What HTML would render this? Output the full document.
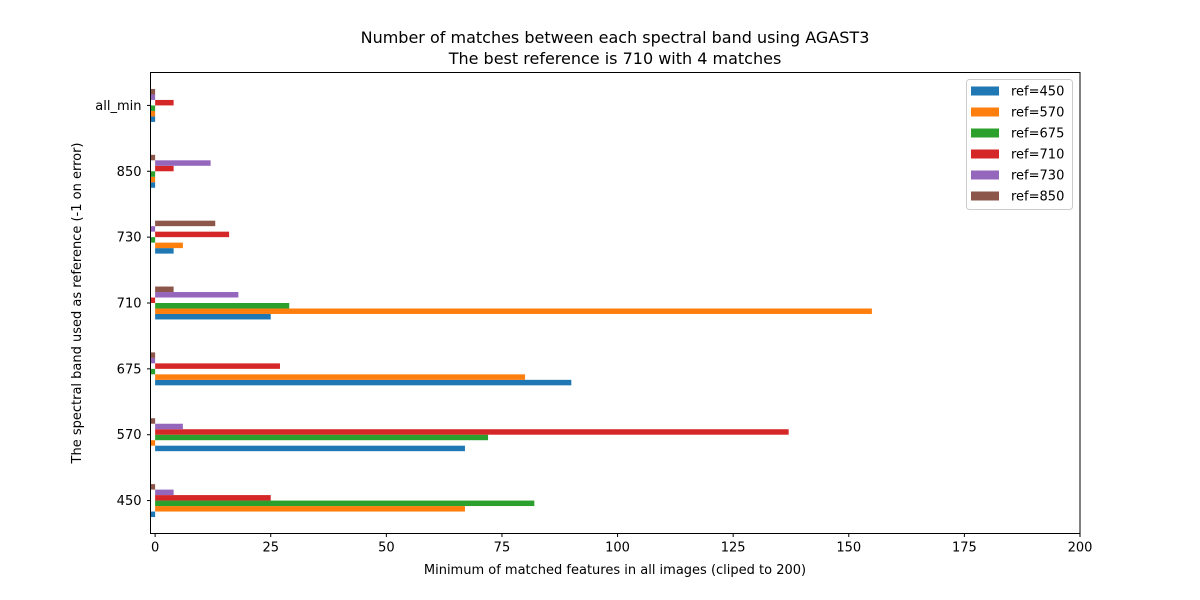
<!DOCTYPE html>
<html><head><meta charset="utf-8"><style>body{margin:0;background:#fff}svg{display:block;font-family:"DejaVu Sans","Liberation Sans",sans-serif}</style></head>
<body>
<svg id="chart" width="1200" height="600" xmlns="http://www.w3.org/2000/svg">
<rect width="1200" height="600" fill="#fff"/>
<text x="615" y="43" font-size="16" text-anchor="middle">Number of matches between each spectral band using AGAST3</text>
<text x="615" y="64" font-size="16" text-anchor="middle">The best reference is 710 with 4 matches</text>
<g id="bars"></g>
<rect x="150.5" y="72.5" width="929.5" height="461" fill="none" stroke="#000" stroke-width="1"/>
<g id="axes"></g>
<text x="615" y="574" font-size="13" text-anchor="middle">Minimum of matched features in all images (cliped to 200)</text>
<text transform="translate(81,303) rotate(-90)" font-size="13" text-anchor="middle">The spectral band used as reference (-1 on error)</text>
<g id="legend"></g>
</svg>
<script>
const categories = ["450","570","675","710","730","850","all_min"];
const seriesNames = ["ref=450","ref=570","ref=675","ref=710","ref=730","ref=850"];
const ref450 = [-1, 67, 90, 25, 4, -1, -1];
const ref570 = [67, -1, 80, 155, 6, -1, -1];
const ref675 = [82, 72, -1, 29, -1, -1, -1];
const ref710 = [25, 137, 27, -1, 16, 4, 4];
const ref730 = [4, 6, -1, 18, -1, 12, -1];
const ref850 = [-1, -1, -1, 4, 13, -1, -1];
const xTicks = [0, 25, 50, 75, 100, 125, 150, 175, 200];

const series = [ref450, ref570, ref675, ref710, ref730, ref850];
const colors = ["#1f77b4","#ff7f0e","#2ca02c","#d62728","#9467bd","#8c564b"];
const NS = "http://www.w3.org/2000/svg";
const L = 150.5, R = 1080, T = 72.5, B = 533.5;
const xMin = -1, xMax = 200;
function xs(v){ return L + (v - xMin) / (xMax - xMin) * (R - L); }
const n = categories.length;
const yMinD = -0.5, yMaxD = n - 0.5;
function yc(i){ return B - (i - yMinD) / (yMaxD - yMinD) * (B - T); }
const step = (B - T) / (yMaxD - yMinD);
const bw = 0.5 / series.length * step;

function mk(tag, attrs, parent){ const e = document.createElementNS(NS, tag); for (const k in attrs) e.setAttribute(k, attrs[k]); parent.appendChild(e); return e; }
const gb = document.getElementById("bars");
series.forEach((s, j) => {
  s.forEach((v, i) => {
    const yTop = yc(i) + 0.25 * step - (j + 1) * bw;
    const x0 = xs(Math.min(0, v)), x1 = xs(Math.max(0, v));
    const r = mk("rect", {x: x0, y: yTop, width: x1 - x0, height: bw, fill: colors[j]}, gb);
    
    
  });
});
const ga = document.getElementById("axes");
xTicks.forEach(t => {
  const x = xs(t);
  mk("line", {x1: x, x2: x, y1: B, y2: B + 3.5, stroke: "#000"}, ga);
  const tx = mk("text", {x: x, y: B + 18, "font-size": 13, "text-anchor": "middle"}, ga);
  tx.textContent = t;
  
  
});
categories.forEach((c, i) => {
  const y = yc(i);
  mk("line", {x1: L - 3.5, x2: L, y1: y, y2: y, stroke: "#000"}, ga);
  const tx = mk("text", {x: L - 9, y: y + 4.5, "font-size": 13, "text-anchor": "end"}, ga);
  tx.textContent = c;
  
  
});
const gl = document.getElementById("legend");
mk("rect", {x: 966.5, y: 79.5, width: 106, height: 130, rx: 3, fill: "#fff", stroke: "#ccc"}, gl);
seriesNames.forEach((nm, j) => {
  const y = 90.5 + j * 21;
  const p = mk("rect", {x: 971, y: y - 4, width: 28, height: 9, fill: colors[j]}, gl);
  
  
  const tx = mk("text", {x: 1011, y: y + 5, "font-size": 13}, gl);
  tx.textContent = nm;
  
  
});
</script>
</body></html>
